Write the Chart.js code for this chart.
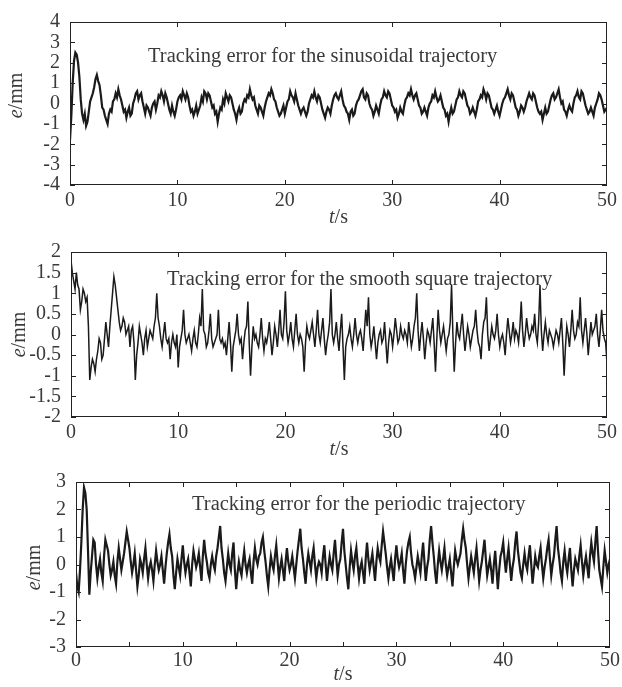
<!DOCTYPE html>
<html lang="en">
<head>
<meta charset="UTF-8">
<title>Tracking error</title>
<script src="https://cdn.jsdelivr.net/npm/chart.js"></script>
<style>
  body { margin: 0; background: #fff; }
  .panel { position: absolute; left: 0; width: 622px; }
</style>
</head>
<body>

<div class="panel" style="top:0;height:230px"><canvas id="c1"></canvas></div>
<div class="panel" style="top:230px;height:230px"><canvas id="c2"></canvas></div>
<div class="panel" style="top:460px;height:227px"><canvas id="c3"></canvas></div>

<script>
// sample spacing of the traces (s), t = 0 ... 50
const dt = 0.125;

// tracking error, sinusoidal trajectory (mm); one row = 2 s
const sinErr = [-1.8,
  -0.6, 1.0, 2.1, 2.5, 2.4, 2.0, 1.3, 0.2, -0.5, -0.8, -0.5, -1.1, -0.9, -0.4, 0.1, 0.3,
  0.5, 0.8, 1.2, 1.4, 1.1, 0.9, 0.4, -0.2, -0.3, -0.6, -0.8, -1.0, -0.5, -0.3, -0.4, 0.1,
  0.2, 0.5, 0.3, 0.7, 0.4, 0.2, -0.1, -0.4, -0.3, -0.7, -0.4, -0.2, -0.6, -0.5, 0.0, 0.2,
  0.5, 0.6, 0.2, 0.4, 0.5, 0.1, -0.2, -0.5, -0.1, -0.2, -0.4, -0.6, -0.2, 0.0, 0.1, -0.3,
  0.0, 0.4, 0.3, 0.6, 0.4, 0.1, 0.5, 0.3, 0.0, -0.3, -0.5, -0.1, -0.4, -0.6, -0.3, 0.1,
  0.3, 0.4, 0.2, 0.6, 0.4, 0.2, 0.5, 0.3, -0.1, -0.4, -0.3, -0.6, -0.4, -0.1, -0.5, -0.3,
  -0.1, 0.3, 0.1, 0.6, 0.5, 0.2, 0.5, 0.4, 0.1, -0.2, -0.1, -0.5, -0.4, -0.9, -0.5, -0.2,
  -0.3, 0.2, 0.0, 0.5, 0.3, 0.1, 0.4, 0.3, 0.0, -0.3, -0.5, -0.8, -0.4, -0.2, -0.5, -0.4,
  0.0, 0.2, 0.1, 0.4, 0.3, 0.7, 0.4, 0.2, 0.3, -0.1, -0.3, -0.5, -0.1, -0.2, -0.4, -0.6,
  -0.2, 0.1, 0.3, 0.5, 0.4, 0.7, 0.5, 0.2, 0.1, -0.2, -0.4, -0.6, -0.5, -0.3, -0.1, -0.5,
  -0.2, 0.1, 0.2, 0.6, 0.4, 0.3, 0.1, 0.5, 0.2, -0.1, -0.3, -0.5, -0.3, -0.2, -0.4, -0.6,
  -0.4, 0.0, 0.2, 0.4, 0.3, 0.6, 0.3, 0.1, 0.4, 0.3, 0.0, -0.3, -0.5, -0.7, -0.4, -0.2,
  -0.3, -0.5, -0.1, 0.2, 0.4, 0.5, 0.3, 0.2, 0.4, 0.6, 0.2, -0.1, -0.2, -0.4, -0.5, -0.8,
  -0.4, -0.3, -0.6, -0.5, -0.1, 0.1, 0.2, 0.4, 0.6, 0.7, 0.3, 0.2, 0.5, 0.4, 0.0, -0.2,
  -0.3, -0.6, -0.4, -0.1, -0.3, -0.5, -0.1, 0.2, 0.3, 0.6, 0.4, 0.3, 0.6, 0.5, 0.2, -0.1,
  -0.2, -0.4, -0.3, -0.7, -0.5, -0.2, -0.4, -0.5, -0.1, 0.2, 0.3, 0.5, 0.4, 0.7, 0.4, 0.2,
  0.4, 0.5, 0.2, -0.1, -0.2, -0.5, -0.4, -0.2, -0.4, -0.6, -0.2, 0.0, 0.1, 0.4, 0.3, 0.6,
  0.3, 0.1, 0.2, 0.4, 0.1, -0.2, -0.3, -0.6, -0.5, -0.9, -0.5, -0.2, -0.5, -0.4, -0.1, 0.2,
  0.3, 0.6, 0.4, 0.3, 0.6, 0.5, 0.2, -0.1, -0.2, -0.5, -0.4, -0.2, -0.4, -0.6, -0.3, 0.1,
  0.2, 0.4, 0.3, 0.7, 0.5, 0.2, 0.5, 0.4, 0.1, -0.2, -0.3, -0.5, -0.3, -0.1, -0.4, -0.6,
  -0.3, 0.0, 0.2, 0.3, 0.5, 0.7, 0.4, 0.2, 0.5, 0.4, 0.1, -0.2, -0.3, -0.6, -0.4, -0.1,
  -0.2, -0.4, -0.2, 0.1, 0.3, 0.5, 0.3, 0.2, 0.5, 0.4, 0.1, -0.2, -0.4, -0.5, -0.4, -0.8,
  -0.5, -0.2, -0.5, -0.4, -0.1, 0.2, 0.4, 0.5, 0.2, 0.3, 0.5, 0.7, 0.3, 0.0, 0.1, -0.3,
  -0.4, -0.6, -0.3, -0.1, -0.3, -0.4, 0.0, 0.3, 0.4, 0.6, 0.3, 0.2, 0.6, 0.5, 0.2, -0.1,
  -0.3, -0.5, -0.4, -0.2, -0.4, -0.6, -0.2, 0.0, 0.2, 0.5, 0.4, 0.2, -0.1, -0.4, -0.3, -0.2];

// tracking error, smooth square trajectory (mm)
const squareErr = [1.8,
  1.5, 1.3, 1.1, 1.5, 1.2, 1.1, 0.6, 0.8, 1.1, 1.0, 0.8, 0.9, 0.2, -1.1, -0.8, -0.6,
  -0.7, -0.9, -0.6, -0.4, -0.1, -0.2, -0.6, -0.5, -0.1, 0.3, 0.0, -0.3, 0.2, 0.6, 1.0, 1.4,
  1.2, 0.9, 0.6, 0.3, 0.1, 0.2, 0.4, 0.3, 0.0, 0.1, 0.2, -0.3, 0.1, 0.2, -0.2, -1.1,
  -0.5, -0.2, 0.2, 0.0, -0.2, -0.5, -0.1, 0.1, -0.3, -0.1, 0.1, 0.0, -0.1, 0.2, 0.4, 1.0,
  0.4, 0.2, -0.1, -0.3, 0.0, 0.3, -0.1, -0.2, -0.1, -0.6, -0.2, 0.0, -0.2, -0.3, 0.0, -0.8,
  -0.3, -0.1, 0.1, 0.6, 0.0, -0.2, -0.1, 0.0, -0.2, -0.4, -0.1, 0.1, -0.2, -0.3, 0.0, 0.4,
  0.2, 1.1, 0.1, 0.0, -0.3, -0.2, 0.1, 0.5, -0.1, -0.3, -0.2, -0.1, 0.0, 0.6, -0.1, -0.2,
  -0.1, -0.3, -0.2, -0.5, -0.1, 0.3, -0.2, -0.9, -0.3, -0.1, 0.1, 0.5, 0.0, -0.2, -0.1, -0.6,
  -0.2, 0.1, 0.2, 0.8, -0.2, -1.0, -0.3, 0.2, -0.1, 0.0, -0.2, -0.3, 0.0, 0.4, -0.1, -0.4,
  -0.1, -0.2, 0.0, 0.3, -0.1, -0.5, -0.2, 0.2, 0.0, -0.3, 0.1, 0.6, 0.0, -0.1, 0.3, 1.05,
  0.1, -0.2, 0.0, 0.3, -0.1, -0.3, 0.1, 0.5, 0.0, -0.2, 0.0, -0.1, -0.3, -0.9, -0.2, 0.2,
  0.0, -0.1, 0.1, 0.3, 0.0, -0.3, 0.1, 0.6, 0.0, -0.2, 0.1, 0.4, -0.1, -0.5, -0.2, 0.0,
  0.3, 1.1, 0.0, -0.2, 0.0, 0.3, -0.1, -0.4, 0.1, 0.5, -0.3, -1.1, -0.3, -0.1, 0.0, 0.2,
  -0.1, -0.3, 0.0, 0.4, 0.0, -0.2, 0.0, 0.1, -0.1, -0.4, 0.1, 0.6, 0.2, 0.9, 0.0, -0.3,
  -0.1, 0.2, -0.2, -0.6, -0.2, 0.0, 0.1, -0.2, -0.1, 0.3, -0.2, -0.7, -0.2, 0.1, 0.0, -0.3,
  0.0, 0.4, 0.1, -0.2, -0.1, 0.2, 0.0, -0.1, 0.1, 0.0, -0.2, 0.3, 0.0, -0.3, -0.1, 0.2,
  0.4, 1.0, 0.1, -0.4, 0.0, 0.3, -0.1, -0.6, -0.2, 0.1, 0.0, -0.2, 0.1, 0.4, -0.2, -0.9,
  -0.1, 0.6, 0.1, -0.2, 0.0, 0.2, -0.1, -0.4, -0.1, 0.0, 0.3, 1.2, 0.0, -0.9, -0.2, 0.3,
  0.0, -0.1, 0.2, 0.5, 0.0, -0.4, -0.1, 0.2, 0.0, -0.3, -0.1, 0.1, 0.2, 0.6, 0.1, -0.2,
  -0.3, -0.6, 0.0, 0.3, 0.4, 0.9, 0.0, -0.4, -0.1, 0.2, 0.0, -0.1, 0.1, 0.5, 0.0, -0.3,
  -0.1, 0.0, -0.2, -0.5, 0.0, 0.4, 0.1, -0.2, 0.0, 0.3, -0.1, 0.1, 0.0, -0.2, 0.2, 0.8,
  0.1, -0.3, 0.0, 0.4, 0.1, -0.1, 0.0, 0.2, 0.1, 0.5, 0.0, -0.2, 0.3, 1.2, 0.1, -0.4,
  0.0, 0.3, 0.0, -0.2, 0.1, 0.0, -0.1, -0.3, -0.1, 0.1, 0.0, -0.2, 0.1, 0.4, -0.2, -1.0,
  -0.3, 0.2, 0.0, -0.3, 0.1, 0.6, 0.1, -0.1, 0.0, 0.3, 0.2, 0.9, 0.1, -0.2, 0.1, 0.4,
  0.0, -0.5, -0.1, 0.3, 0.0, 0.1, 0.2, 0.5, 0.0, -0.3, 0.1, 0.6, 0.1, -0.1, -0.2, -0.7];

// tracking error, periodic trajectory (mm)
const periodicErr = [-0.3,
  -0.8, -1.0, -0.2, 0.8, 2.0, 2.8, 2.6, 2.0, 0.5, -1.1, -0.3, 0.3, 0.9, 0.8, 0.0, -0.5,
  -0.1, 0.2, -0.3, -0.6, 0.3, 0.9, 0.7, 0.5, 0.0, -0.4, -0.2, 0.1, -0.4, -0.7, 0.1, 0.6,
  0.2, -0.2, 0.1, 0.4, 0.8, 1.2, 0.9, 0.6, 0.1, -0.3, 0.0, 0.4, -0.2, -0.8, -0.4, 0.2,
  0.0, -0.3, 0.2, 0.6, 0.0, -0.5, -0.1, 0.1, -0.2, -0.6, 0.0, 0.5, 0.1, -0.2, 0.0, 0.3,
  -0.2, -0.7, -0.1, 0.4, 0.8, 1.1, 0.6, 0.3, -0.4, -0.9, -0.3, 0.2, -0.1, -0.4, 0.2, 0.7,
  0.1, -0.3, 0.0, 0.2, -0.3, -0.8, 0.0, 0.5, 0.2, -0.1, 0.1, 0.4, -0.1, -0.6, 0.3, 0.9,
  0.4, 0.1, -0.3, -0.5, 0.0, 0.3, 0.0, -0.2, 0.3, 0.6, 1.0, 1.4, 0.6, 0.2, -0.3, -0.6,
  -0.1, 0.4, 0.0, -0.2, 0.4, 0.8, -0.2, -0.9, -0.3, 0.1, -0.2, -0.4, 0.1, 0.5, 0.0, -0.3,
  0.0, 0.2, -0.3, -0.7, 0.1, 0.6, 0.2, 0.0, 0.3, 0.4, 0.8, 1.0, 0.5, 0.1, -0.4, -0.8,
  -0.2, 0.3, 0.0, -0.2, 0.3, 0.7, 0.1, -0.5, -0.1, 0.2, -0.2, -0.6, 0.1, 0.6, 0.1, -0.2,
  0.0, 0.3, -0.1, -0.5, 0.0, 0.5, 0.9, 1.3, 0.6, 0.2, -0.3, -0.7, 0.0, 0.4, 0.1, -0.2,
  0.3, 0.6, 0.0, -0.5, -0.1, 0.1, 0.0, -0.3, 0.3, 0.7, 0.0, -0.6, -0.1, 0.3, 0.0, -0.2,
  0.4, 0.9, 0.2, -0.4, 0.0, 0.2, 0.8, 1.3, 0.5, 0.0, -0.5, -0.9, -0.1, 0.5, 0.1, -0.2,
  0.3, 0.6, 0.0, -0.5, -0.1, 0.1, -0.3, -0.7, 0.2, 0.8, 0.2, -0.2, 0.1, 0.4, -0.1, -0.6,
  0.1, 0.6, 0.3, 0.1, 0.7, 1.2, 0.8, 0.4, -0.1, -0.5, -0.1, 0.2, -0.2, -0.6, 0.2, 0.7,
  0.2, -0.1, 0.1, 0.4, -0.2, -0.7, 0.0, 0.5, 0.8, 1.0, 0.4, 0.0, -0.2, -0.5, -0.1, 0.3,
  0.0, -0.3, 0.3, 0.8, 0.1, -0.6, -0.1, 0.2, 0.9, 1.4, 0.8, 0.3, -0.3, -0.7, 0.0, 0.5,
  0.1, -0.2, 0.2, 0.6, 0.0, -0.4, -0.1, 0.2, -0.3, -0.8, -0.1, 0.5, 0.2, 0.0, 0.2, 0.4,
  0.9, 1.3, 0.9, 0.6, 0.0, -0.5, -0.1, 0.3, 0.0, -0.3, 0.2, 0.6, 0.0, -0.6, -0.2, 0.1,
  0.5, 0.9, 0.2, -0.4, -0.1, 0.2, -0.2, -0.7, 0.0, 0.5, -0.2, -0.9, -0.2, 0.3, 0.5, 0.8,
  0.2, -0.3, 0.2, 0.6, 0.0, -0.6, -0.1, 0.2, 0.8, 1.2, 0.5, 0.1, -0.3, -0.5, 0.0, 0.4,
  0.0, -0.2, 0.3, 0.7, 0.0, -0.7, -0.2, 0.3, 0.0, -0.1, 0.3, 0.6, 0.0, -0.5, -0.1, 0.2,
  0.6, 0.9, 0.2, -0.4, 0.0, 0.3, 0.9, 1.4, 0.6, 0.2, -0.3, -0.6, 0.1, 0.5, 0.0, -0.3,
  0.2, 0.6, -0.2, -0.8, -0.2, 0.2, 0.0, -0.2, 0.3, 0.7, 0.1, -0.4, 0.0, 0.3, -0.1, -0.5,
  0.3, 0.8, 0.4, 0.1, 0.8, 1.4, 0.5, -0.2, -0.5, -0.8, -0.1, 0.5, 0.1, -0.3, 0.0, 0.2];

const notes = [
  'Tracking error for the sinusoidal trajectory',
  'Tracking error for the smooth square trajectory',
  'Tracking error for the periodic trajectory'
];

const FONT = '"Liberation Serif", "Times New Roman", serif';
const INK = '#222';
const TXT = '#3a3a3a';

// box, inward ticks on all four sides, note and axis titles
const framePlugin = {
  id: 'frame',
  afterDraw(chart, args, o) {
    const { ctx, chartArea: a, scales: { x, y } } = chart;
    ctx.save();
    ctx.strokeStyle = INK;
    ctx.lineWidth = 1;
    ctx.strokeRect(a.left + 0.5, a.top + 0.5, a.right - a.left - 1, a.bottom - a.top - 1);
    ctx.beginPath();
    const nx = Math.round((x.max - x.min) / o.xStep);
    for (let i = 1; i < nx; i++) {
      const px = Math.round(x.getPixelForValue(x.min + i * o.xStep)) + 0.5;
      ctx.moveTo(px, a.bottom); ctx.lineTo(px, a.bottom - 5);
      ctx.moveTo(px, a.top); ctx.lineTo(px, a.top + 5);
    }
    y.ticks.forEach(t => {
      const py = Math.round(y.getPixelForValue(t.value)) + 0.5;
      ctx.moveTo(a.left, py); ctx.lineTo(a.left + 5, py);
      ctx.moveTo(a.right, py); ctx.lineTo(a.right - 5, py);
    });
    ctx.stroke();

    ctx.fillStyle = TXT;
    ctx.textAlign = 'left';
    ctx.textBaseline = 'alphabetic';
    ctx.font = '20.5px ' + FONT;
    ctx.fillText(o.note, a.left + o.noteX, a.top + o.noteY);

    // x title: italic t + "/s"
    ctx.textBaseline = 'middle';
    const fs = '20px ' + FONT, fi = 'italic 20px ' + FONT;
    ctx.font = fi; const w1 = ctx.measureText('t').width;
    ctx.font = fs; const w2 = ctx.measureText('/s').width;
    let sx = (a.left + a.right) / 2 - (w1 + w2) / 2;
    const ty = a.bottom + o.xTitleY;
    ctx.font = fi; ctx.fillText('t', sx, ty);
    ctx.font = fs; ctx.fillText('/s', sx + w1, ty);

    // y title: italic e + "/mm", rotated
    ctx.translate(o.yTitleX, (a.top + a.bottom) / 2 + o.yTitleDy);
    ctx.rotate(-Math.PI / 2);
    ctx.font = fi; const e1 = ctx.measureText('e').width;
    ctx.font = fs; const e2 = ctx.measureText('/mm').width;
    sx = -(e1 + e2) / 2;
    ctx.font = fi; ctx.fillText('e', sx, 0);
    ctx.font = fs; ctx.fillText('/mm', sx + e1, 0);
    ctx.restore();
  }
};

function makeChart(id, values, p) {
  const pts = values.map((v, i) => ({ x: i * dt, y: v }));
  return new Chart(document.getElementById(id), {
    type: 'line',
    data: {
      datasets: [{
        data: pts,
        borderColor: '#1a1a1a',
        borderWidth: p.lw,
        borderJoinStyle: 'miter',
        pointRadius: 0,
        tension: 0
      }]
    },
    options: {
      responsive: true,
      maintainAspectRatio: false,
      animation: false,
      events: [],
      layout: { padding: { top: p.top, right: p.right, left: 0, bottom: 0 } },
      plugins: {
        legend: { display: false },
        tooltip: { enabled: false },
        frame: p.frame
      },
      scales: {
        x: {
          type: 'linear', min: 0, max: 50,
          grid: { display: false, drawTicks: false },
          border: { display: false },
          ticks: { stepSize: 10, padding: p.xPad, color: TXT, font: { family: FONT, size: 20 }, maxRotation: 0 },
          afterFit: s => { s.height = p.xHeight; }
        },
        y: {
          min: p.yMin, max: p.yMax,
          grid: { display: false, drawTicks: false },
          border: { display: false },
          ticks: {
            stepSize: p.yStep, autoSkip: false, padding: 10, color: TXT,
            font: { family: FONT, size: 20 },
            callback: v => String(Math.round(v * 100) / 100)
          },
          afterFit: s => { s.width = p.yWidth; }
        }
      }
    },
    plugins: [framePlugin]
  });
}

makeChart('c1', sinErr, {
  top: 13, right: 15, xHeight: 45, yWidth: 70, xPad: 4, yMin: -4, yMax: 4, yStep: 1, lw: 2.2,
  frame: { xStep: 10, note: notes[0], noteX: 78, noteY: 40, xTitleY: 33, yTitleX: 17, yTitleDy: -8 }
});
makeChart('c2', squareErr, {
  top: 15, right: 15, xHeight: 43, yWidth: 71, xPad: 4, yMin: -2, yMax: 2, yStep: 0.5, lw: 1.5,
  frame: { xStep: 10, note: notes[1], noteX: 96, noteY: 33, xTitleY: 33, yTitleX: 20, yTitleDy: 0 }
});
makeChart('c3', periodicErr, {
  top: 20, right: 12, xHeight: 40, yWidth: 76, xPad: 2, yMin: -3, yMax: 3, yStep: 1, lw: 2.2,
  frame: { xStep: 5, note: notes[2], noteX: 116, noteY: 28, xTitleY: 28, yTitleX: 35, yTitleDy: 3 }
});
</script>

</body>
</html>
